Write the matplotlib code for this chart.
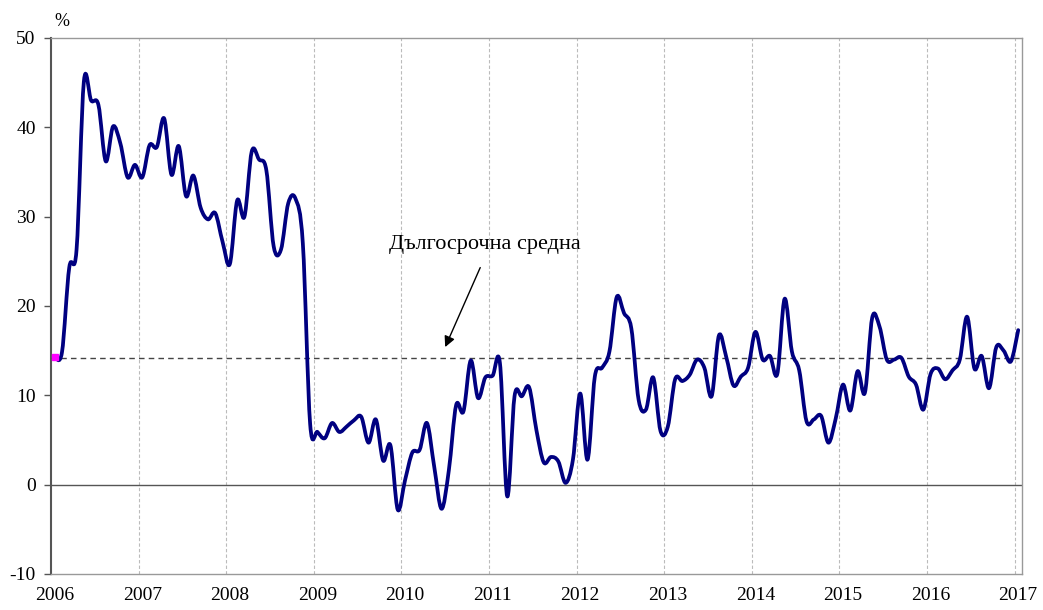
import numpy as np
import matplotlib.pyplot as plt
from matplotlib.path import Path
from matplotlib.patches import PathPatch

plt.rcParams['font.family'] = ['Liberation Serif', 'DejaVu Serif']
plt.rcParams['axes.unicode_minus'] = False

# Месечни стойности, януари 2006 - януари 2017 (%)
values = [14.3, 14.8, 24.3, 26.3, 45.1, 43.0, 42.5, 36.2, 40.1, 38.2, 34.4, 35.8,
          34.4, 38.0, 37.8, 41.0, 34.7, 37.9, 32.3, 34.6, 31.0, 29.7, 30.4, 27.2,
          24.7, 31.8, 30.0, 37.3, 36.4, 35.2, 26.7, 26.3, 31.5, 32.0, 27.0, 6.8,
          5.9, 5.2, 6.9, 5.9, 6.5, 7.2, 7.6, 4.7, 7.3, 2.7, 4.4, -2.8,
          0.5, 3.6, 3.9, 6.9, 2.0, -2.7, 1.6, 8.9, 8.2, 13.9, 9.7, 12.0,
          12.2, 13.6, -1.3, 9.9, 9.9, 10.9, 6.1, 2.5, 3.1, 2.6, 0.2, 2.8,
          10.2, 2.8, 12.1, 13.1, 14.9, 21.0, 19.2, 17.5, 9.5, 8.4, 12.0, 6.0,
          6.5, 11.8, 11.6, 12.3, 14.0, 13.1, 9.9, 16.7, 14.3, 11.1, 12.1, 13.1,
          17.1, 14.0, 14.4, 12.4, 20.8, 14.9, 12.8, 7.1, 7.3, 7.7, 4.7, 7.4,
          11.2, 8.3, 12.7, 10.3, 18.7, 17.7, 14.0, 14.0, 14.2, 12.1, 11.2, 8.4,
          12.4, 13.0, 11.8, 12.8, 14.0, 18.8, 13.0, 14.4, 10.8, 15.4, 15.0, 13.8,
          17.3]
long_term_avg = 14.2
years = list(range(2006, 2018))
avg_label = 'Дългосрочна средна'

x = 2006 + (np.arange(len(values)) + 0.5) / 12
y = np.array(values)

fig = plt.figure(figsize=(10.43, 6.10), dpi=100)
ax = fig.add_axes([51/1043, 1 - 574/610, (1022 - 51)/1043, (574 - 38)/610])

# гладка линия като в Excel (Безие с контролни точки от съседите)
pts = np.column_stack([x, y])
verts = [pts[0]]
codes = [Path.MOVETO]
n = len(pts)
for i in range(n - 1):
    p0 = pts[max(i - 1, 0)]
    p1 = pts[i]
    p2 = pts[i + 1]
    p3 = pts[min(i + 2, n - 1)]
    c1 = p1 + (p2 - p0) / 6
    c2 = p2 - (p3 - p1) / 6
    verts += [c1, c2, p2]
    codes += [Path.CURVE4] * 3
ax.add_patch(PathPatch(Path(verts, codes), facecolor='none', edgecolor='#000080',
                       lw=2.7, capstyle='round', joinstyle='round', zorder=4))
ax.plot(x[:1], y[:1], 's', color='#ff00ff', ms=4, zorder=5)

for yr in years[1:]:
    ax.axvline(yr, color='#bbbbbb', lw=0.8, ls=(0, (3, 2)), zorder=1)
ax.axhline(0, color='#555555', lw=1.0, zorder=2)
ax.axhline(long_term_avg, color='#444444', lw=1.0, ls=(0, (4, 3)), zorder=3)

# надпис и стрелка към средната
ax.text(2010.95, 26.9, avg_label, fontsize=16, ha='center', va='center')
ax.annotate('', xy=(2010.5, 15.4), xytext=(2010.9, 24.3),
            arrowprops=dict(arrowstyle='-|>', color='black', lw=1.0,
                            mutation_scale=16, shrinkA=0, shrinkB=0))

ax.set_xlim(2006, 2017.085)
ax.set_ylim(-10, 50)
ax.set_yticks(range(-10, 51, 10))
ax.set_xticks([yr + 0.5/12 for yr in years])
ax.set_xticklabels([str(yr) for yr in years])
ax.tick_params(axis='x', length=0, labelsize=14, pad=9)
ax.tick_params(axis='y', direction='out', length=5, width=1, color='#555555',
               labelsize=14, pad=6)
for side in ['top', 'right', 'bottom']:
    ax.spines[side].set_color('#999999')
    ax.spines[side].set_linewidth(1.0)
ax.spines['left'].set_color('#555555')
ax.spines['left'].set_linewidth(1.5)
fig.text(62/1043, 1 - 22/610, '%', fontsize=13, ha='center', va='center')

fig.savefig('out.png', dpi=100)
